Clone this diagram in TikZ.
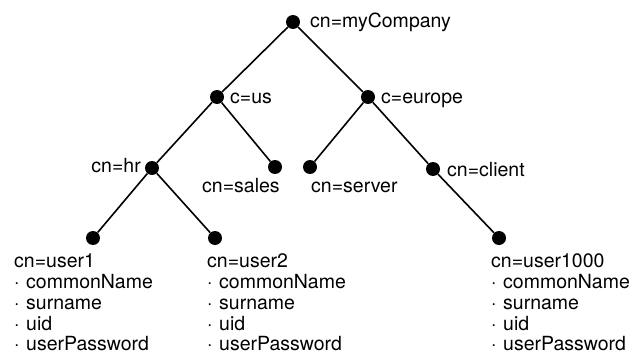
\documentclass[tikz,border=0pt]{standalone}
\usepackage{fontspec}
\setmainfont{TeX Gyre Heros}
\tikzset{
  dot/.style={circle, fill=black, inner sep=0pt, minimum size=14pt},
  edge/.style={line width=1.6pt, black},
  lbl/.style={inner sep=0pt, font=\fontsize{19.5}{21}\selectfont},
}
\newcommand{\bul}[1]{\makebox[12pt][l]{·}#1}
\begin{document}
\begin{tikzpicture}[x=1pt,y=-1pt]
\useasboundingbox (0,0) rectangle (632,353);
% dots
\node[dot] (root) at (293,22) {};
\node[dot] (us) at (217,97) {};
\node[dot] (eu) at (368,97) {};
\node[dot] (hr) at (152,168) {};
\node[dot] (sales) at (275,167) {};
\node[dot] (server) at (310,167) {};
\node[dot] (client) at (433,169) {};
\node[dot] (u1) at (93,238) {};
\node[dot] (u2) at (215,238) {};
\node[dot] (u1000) at (499,238) {};
% edges
\draw[edge] (root) -- (us);
\draw[edge] (root) -- (eu);
\draw[edge] (us) -- (hr);
\draw[edge] (us) -- (sales);
\draw[edge] (eu) -- (server);
\draw[edge] (eu) -- (client);
\draw[edge] (hr) -- (u1);
\draw[edge] (hr) -- (u2);
\draw[edge] (client) -- (u1000);
% labels
\node[lbl, anchor=base west] (lroot) at (310,28) {cn=myCompany};
\node[lbl, anchor=base west] (lus) at (230,103) {c=us};
\node[lbl, anchor=base west] (leu) at (381,103) {c=europe};
\node[lbl, anchor=base east] (lhr) at (141,172) {cn=hr};
\node[lbl, anchor=base west] (lsales) at (202,192) {cn=sales};
\node[lbl, anchor=base west] (lserver) at (311,192) {cn=server};
\node[lbl, anchor=base west] (lclient) at (447,176) {cn=client};
% user blocks
\foreach \nm/\x/\t in {a/14/cn=user1, b/207/cn=user2, c/491/cn=user1000}{
  \node[lbl, anchor=base west] (\nm0) at (\x,267) {\t};
  \node[lbl, anchor=base west] (\nm1) at (\x,288) {\bul{commonName}};
  \node[lbl, anchor=base west] (\nm2) at (\x,309) {\bul{surname}};
  \node[lbl, anchor=base west] (\nm3) at (\x,330) {\bul{uid}};
  \node[lbl, anchor=base west] (\nm4) at (\x,350) {\bul{userPassword}};
}
\end{tikzpicture}
\end{document}
